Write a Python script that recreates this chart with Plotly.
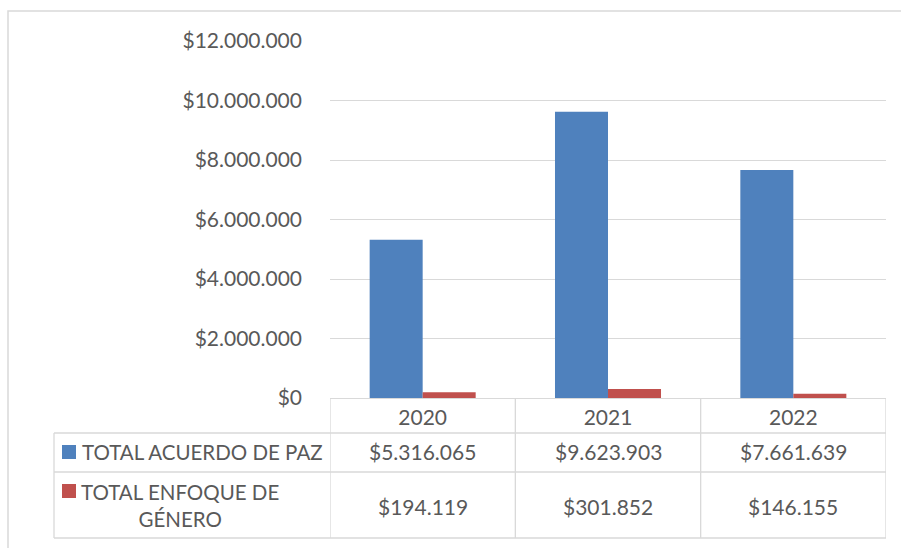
import plotly.graph_objects as go

years = ["2020", "2021", "2022"]
acuerdo_paz = [5316065, 9623903, 7661639]
enfoque_genero = [194119, 301852, 146155]
series_names = ["TOTAL ACUERDO DE PAZ", "TOTAL ENFOQUE DE<br>GÉNERO"]
colors = ["#4F81BD", "#C0504D"]

W, H = 901, 548
L, R, T, B = 330, 15, 41, 150
PW, PH = W - L - R, H - T - B


def px(x):
    return (x - L) / PW


def py(y):
    return (H - B - y) / PH


def fmt(v):
    return "$" + f"{v:,}".replace(",", ".")


FONT = "Lato"
TXT = "#595959"
LINE = "#D9D9D9"
NUM_SIZE = 21

fig = go.Figure()
fig.add_trace(go.Bar(x=years, y=acuerdo_paz, name="TOTAL ACUERDO DE PAZ",
                     marker=dict(color=colors[0], line=dict(width=0))))
fig.add_trace(go.Bar(x=years, y=enfoque_genero, name="TOTAL ENFOQUE DE GÉNERO",
                     marker=dict(color=colors[1], line=dict(width=0))))

shapes = []
# outer chart border
shapes.append(dict(type="rect", xref="paper", yref="paper",
                   x0=px(8), x1=px(910), y0=py(560), y1=py(11),
                   line=dict(color=LINE, width=1.5), layer="below"))
# data table horizontal lines
for yy in [433, 472, 538]:
    shapes.append(dict(type="line", xref="paper", yref="paper",
                       x0=px(54), x1=px(886), y0=py(yy), y1=py(yy),
                       line=dict(color=LINE, width=1.3)))
# vertical lines at category boundaries
for i in range(len(years) + 1):
    shapes.append(dict(type="line", xref="x", yref="paper",
                       x0=i - 0.5, x1=i - 0.5, y0=py(398), y1=py(538),
                       line=dict(color=LINE, width=1.3)))
shapes.append(dict(type="line", xref="paper", yref="paper",
                   x0=px(54), x1=px(54), y0=py(433), y1=py(538),
                   line=dict(color=LINE, width=1.3)))
# legend keys
shapes.append(dict(type="rect", xref="paper", yref="paper",
                   x0=px(62), x1=px(76), y0=py(459), y1=py(445),
                   fillcolor=colors[0], line=dict(width=0)))
shapes.append(dict(type="rect", xref="paper", yref="paper",
                   x0=px(62), x1=px(76), y0=py(498), y1=py(484),
                   fillcolor=colors[1], line=dict(width=0)))

annotations = []
for i, yr in enumerate(years):
    annotations.append(dict(x=i, xref="x", y=py(452), yref="paper",
                            text=fmt(acuerdo_paz[i]), showarrow=False,
                            xanchor="center", yanchor="middle",
                            font=dict(family=FONT, size=NUM_SIZE, color=TXT)))
    annotations.append(dict(x=i, xref="x", y=py(506), yref="paper",
                            text=fmt(enfoque_genero[i]), showarrow=False,
                            xanchor="center", yanchor="middle",
                            font=dict(family=FONT, size=NUM_SIZE, color=TXT)))
annotations.append(dict(x=px(80), xref="paper", y=py(452), yref="paper",
                        text=series_names[0], showarrow=False,
                        xanchor="left", yanchor="middle",
                        font=dict(family=FONT, size=20.5, color=TXT)))
annotations.append(dict(x=px(180), xref="paper", y=py(505), yref="paper",
                        text=series_names[1], showarrow=False, align="center",
                        xanchor="center", yanchor="middle",
                        font=dict(family=FONT, size=20.5, color=TXT)))

fig.update_layout(
    width=W, height=H,
    margin=dict(l=L, r=R, t=T, b=B, pad=0),
    paper_bgcolor="white", plot_bgcolor="white",
    showlegend=False,
    barmode="group", bargap=0.428, bargroupgap=0,
    separators=",.",
    shapes=shapes, annotations=annotations,
    font=dict(family=FONT, color=TXT),
)
fig.update_xaxes(type="category", range=[-0.5, 2.5], showgrid=False,
                 showline=False, zeroline=False,
                 ticks="", ticklabelstandoff=5,
                 tickfont=dict(family=FONT, size=NUM_SIZE, color=TXT))
fig.update_yaxes(range=[0, 12000000], dtick=2000000, tick0=0,
                 tickprefix="$", tickformat=",d",
                 showgrid=True, gridcolor=LINE, gridwidth=1.3,
                 zeroline=True, zerolinecolor=LINE, zerolinewidth=1.3,
                 showline=False, ticks="", ticklabelstandoff=27,
                 tickfont=dict(family=FONT, size=NUM_SIZE, color=TXT))

fig.write_html("out.html", config={"displayModeBar": False},
               post_script="document.body.style.margin='0';")
